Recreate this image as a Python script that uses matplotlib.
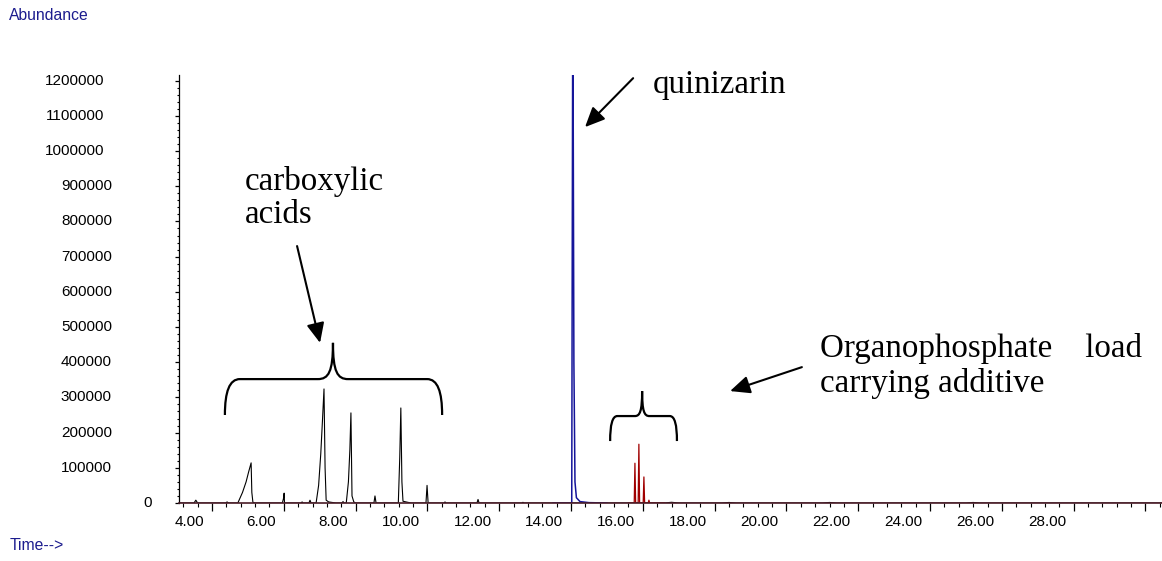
import numpy as np
import matplotlib
matplotlib.use('Agg')
import matplotlib.pyplot as plt
from matplotlib.path import Path
from matplotlib.patches import PathPatch

# chromatogram traces (retention time in min, abundance)
black_time = [3.08, 3.50, 3.55, 3.60, 4.38, 4.42, 4.46,
              4.72, 4.85, 4.95, 5.02, 5.09, 5.11, 5.14, 5.20,
              5.96, 5.99, 6.01, 6.02, 6.48, 6.51, 6.54, 6.70, 6.73, 6.76,
              6.90, 6.97, 7.03, 7.08, 7.12, 7.15, 7.18, 7.25, 7.35, 7.45,
              7.62, 7.65, 7.68, 7.74, 7.80, 7.84, 7.87, 7.90, 7.95, 8.00,
              8.51, 8.54, 8.57, 9.19, 9.23, 9.26, 9.29, 9.32, 9.45, 9.55,
              9.96, 9.99, 10.02, 10.46, 10.49, 10.52, 11.38, 11.41, 11.44,
              12.63, 12.66, 12.69, 13.50, 16.60, 16.80, 17.00, 18.20, 18.40,
              18.60, 21.00, 21.20, 21.40, 25.00, 25.20, 25.40, 30.46]
black_abund = [0, 0, 8000, 0, 0, 3000, 0,
               0, 30000, 60000, 88000, 114000, 30000, 2000, 0,
               0, 12000, 28000, 0, 0, 3000, 0, 0, 8000, 0,
               0, 50000, 140000, 240000, 324000, 100000, 8000, 3000, 1500, 0,
               0, 4000, 0, 0, 60000, 150000, 256000, 20000, 3000, 0,
               0, 20000, 0, 0, 130000, 270000, 60000, 5000, 2000, 0,
               0, 50000, 0, 0, 3000, 0, 0, 10000, 0,
               0, 2000, 0, 0, 0, 2000, 0, 0, 1500,
               0, 0, 1500, 0, 0, 1500, 0, 0]

blue_time = [13.50, 14.02, 14.05, 14.08, 14.11, 14.15, 14.25, 14.50, 15.00]
blue_abund = [0, 0, 1500000, 400000, 60000, 15000, 4000, 1000, 0]

red_time = [15.60, 15.76, 15.78, 15.80, 15.87, 15.89, 15.91,
            16.01, 16.03, 16.05, 16.15, 16.17, 16.19, 16.60]
red_abund = [0, 0, 113000, 0, 0, 167000, 0,
             0, 74000, 0, 0, 8000, 0, 0]

x_tick_pos = [4, 6, 8, 10, 12, 14, 16, 18, 20, 22, 24, 26, 28]
x_tick_labels = ['4.00', '6.00', '8.00', '10.00', '12.00', '14.00', '16.00',
                 '18.00', '20.00', '22.00', '24.00', '26.00', '28.00']
y_tick_pos = [0, 100000, 200000, 300000, 400000, 500000, 600000,
              700000, 800000, 900000, 1000000, 1100000, 1200000]
y_tick_labels = [str(v) for v in y_tick_pos]

sans = 'Liberation Sans'
serif = 'Liberation Serif'
navy = '#1c1c8e'

fig = plt.figure(figsize=(11.62, 5.61), dpi=100)
ax = fig.add_axes([0.1540, 0.1034, 0.8460, 0.7629])

ax.plot(black_time, black_abund, color='black', lw=0.8)
ax.plot(red_time, red_abund, color='#a00000', lw=0.9)
ax.plot(blue_time, blue_abund, color='#15159a', lw=1.1)

ax.set_xlim(3.08, 30.46)
ax.set_ylim(0, 1216000)

for s in ['top', 'right']:
    ax.spines[s].set_visible(False)
ax.spines['left'].set_linewidth(0.9)
ax.spines['bottom'].set_linewidth(1.2)
ax.spines['bottom'].set_color('#4a1c28')

# ticks
ax.set_xticks(np.arange(4, 30.1, 2))
ax.set_xticks(np.arange(3.2, 30.46, 0.4), minor=True)
ax.set_yticks(y_tick_pos)
ax.set_yticks(np.arange(0, 1216000, 20000), minor=True)
ax.tick_params(axis='x', which='major', direction='out', length=5.8, width=0.9, labelbottom=False)
ax.tick_params(axis='x', which='minor', direction='out', length=2.9, width=0.8)
ax.tick_params(axis='y', which='major', direction='out', length=2.6, width=0.9, labelleft=False)
ax.tick_params(axis='y', which='minor', direction='out', length=1.4, width=0.8)

# tick labels drawn left of their ticks, as in the instrument printout
for t, lab in zip(x_tick_pos, x_tick_labels):
    ax.annotate(lab, xy=(t, 0), xycoords=('data', 'axes fraction'),
                xytext=(-5.5, -13.7), textcoords='offset points',
                ha='right', va='center', fontsize=11, family=sans)
for v, lab in zip(y_tick_pos, y_tick_labels):
    ax.annotate(lab, xy=(0, v), xycoords=('axes fraction', 'data'),
                xytext=(-(19 + 8 * len(lab)) * 0.72, 0), textcoords='offset points',
                ha='right', va='center', fontsize=11, family=sans)

fig.text(9 / 1162, 1 - 16 / 561, 'Abundance', color=navy, fontsize=11.3, family=sans,
         ha='left', va='center')
fig.text(10 / 1162, 1 - 545 / 561, 'Time-->', color=navy, fontsize=11.3, family=sans,
         ha='left', va='center')

# annotations
fs = 23.8
ax.text(16.28, 1165000, 'quinizarin', fontsize=fs, family=serif, va='baseline', clip_on=False)
ax.text(4.92, 889000, 'carboxylic', fontsize=fs, family=serif, va='baseline')
ax.text(4.92, 795000, 'acids', fontsize=fs, family=serif, va='baseline')
ax.text(20.94, 415000, 'Organophosphate    load', fontsize=fs, family=serif, va='baseline')
ax.text(20.94, 315000, 'carrying additive', fontsize=fs, family=serif, va='baseline')

arrow = dict(arrowstyle='-|>,head_length=0.4,head_width=0.18', lw=1.5, color='black',
             mutation_scale=30, shrinkA=0, shrinkB=0)
ax.annotate('', xy=(14.39, 1068000), xytext=(15.73, 1207000), arrowprops=arrow, annotation_clip=False)
ax.annotate('', xy=(7.01, 455000), xytext=(6.37, 730000), arrowprops=arrow)
ax.annotate('', xy=(18.43, 318000), xytext=(20.43, 386000), arrowprops=arrow)


def brace(x0, x1, xm, yt, yf, ym, w):
    verts = [(x0, yt),
             (x0, yt + 0.65 * (yf - yt)), (x0 + 0.3 * w, yf), (x0 + w, yf),
             (xm - w, yf),
             (xm - 0.3 * w, yf), (xm, yf + 0.2 * (ym - yf)), (xm, ym),
             (xm, yf + 0.2 * (ym - yf)), (xm + 0.3 * w, yf), (xm + w, yf),
             (x1 - w, yf),
             (x1 - 0.3 * w, yf), (x1, yt + 0.65 * (yf - yt)), (x1, yt)]
    codes = [Path.MOVETO,
             Path.CURVE4, Path.CURVE4, Path.CURVE4,
             Path.LINETO,
             Path.CURVE4, Path.CURVE4, Path.CURVE4,
             Path.CURVE4, Path.CURVE4, Path.CURVE4,
             Path.LINETO,
             Path.CURVE4, Path.CURVE4, Path.CURVE4]
    ax.add_patch(PathPatch(Path(verts, codes), fill=False, lw=1.6, color='black',
                           capstyle='butt'))


brace(4.36, 10.41, 7.37, 250000, 352000, 455000, 0.42)
brace(15.09, 16.95, 15.98, 176000, 247000, 318000, 0.2)

plt.savefig('out.png', dpi=100)
